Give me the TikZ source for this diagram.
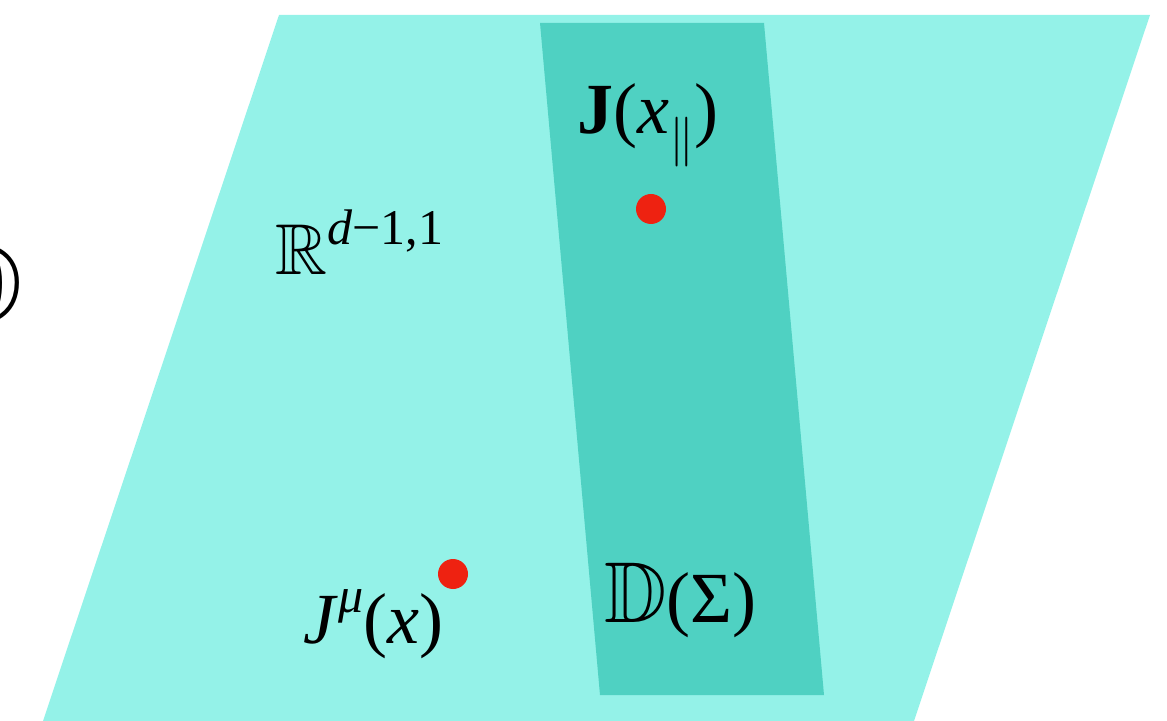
\documentclass[tikz,border=0pt]{standalone}
\usepackage{amsmath,amssymb}
\usepackage{fontspec}
\setmainfont{Liberation Serif}
\definecolor{planecol}{HTML}{94F2E8}
\definecolor{stripcol}{HTML}{4FD1C2}
\definecolor{dotcol}{HTML}{EE2211}
\newcommand{\supx}[1]{\raisebox{0.42em}{\fontsize{25}{28}\selectfont #1}}
\newcommand{\subx}[1]{\raisebox{-0.28em}{\fontsize{24.88}{28}\selectfont #1}}
\tikzset{
  plane/.style={fill=planecol},
  strip/.style={fill=stripcol},
  reddot/.style={circle,fill=dotcol,inner sep=0pt,minimum size=15pt},
  lbl/.style={inner sep=0pt,font=\fontsize{36}{40}\selectfont,anchor=base west},
}
\begin{document}
\begin{tikzpicture}[x=0.5pt,y=-0.5pt]
\useasboundingbox (0,0) rectangle (1167,721);
\clip (0,0) rectangle (1167,721);
\fill[plane] (279,15) -- (1150,15) -- (914,721) -- (43,721) -- cycle;
\fill[strip] (540,23) -- (764,23) -- (824,695) -- (600,695) -- cycle;
\node[reddot] (d1) at (651,209) {};
\node[reddot] (d2) at (453,574) {};
\node[lbl] (jpar) at (577,134) {\textbf{J}(\textit{x}\subx{$\|$})};
\node[lbl] (rr) at (275,275) {$\mathbb{R}$\supx{\textit{d}−1,1}};
\node[lbl] (jmu) at (303,643) {\textit{J}\supx{\textit{μ}}(\textit{x})};
\node[lbl] (dsig) at (604,622) {\scalebox{1.2}{$\mathbb{D}$}(Σ)};
\node[inner sep=0pt,anchor=east,font=\fontsize{60}{64}\selectfont] (edge) at (24,284) {$\mathbb{D}$};
\end{tikzpicture}
\end{document}
